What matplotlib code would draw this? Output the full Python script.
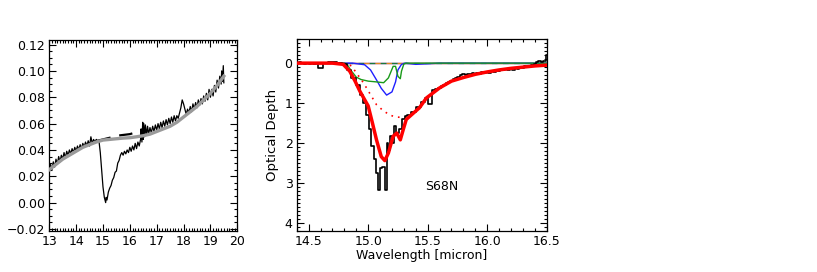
import matplotlib
matplotlib.use("Agg")
import matplotlib.pyplot as plt
from matplotlib.ticker import MultipleLocator
import numpy as np

# ---- left panel: observed spectrum, local continuum and polynomial continuum
spec_wav = [13.00, 13.05, 13.10, 13.15, 13.20, 13.25, 13.30, 13.35, 13.40, 13.45,
            13.50, 13.55, 13.60, 13.65, 13.70, 13.75, 13.80, 13.85, 13.90, 13.95,
            14.00, 14.05, 14.10, 14.15, 14.20, 14.25, 14.30, 14.35, 14.40, 14.45,
            14.50, 14.55, 14.60, 14.65, 14.70, 14.75, 14.80, 14.85, 14.90, 14.95,
            15.00, 15.05, 15.10, 15.12, 15.15, 15.20, 15.25, 15.30, 15.35, 15.40,
            15.45, 15.50, 15.55, 15.60, 15.65, 15.70, 15.75, 15.80, 15.85, 15.90,
            15.95, 16.00, 16.05, 16.10, 16.15, 16.20, 16.25, 16.30, 16.35, 16.40,
            16.42, 16.45, 16.48, 16.50, 16.52, 16.55, 16.58, 16.62, 16.66, 16.70,
            16.75, 16.80, 16.85, 16.90, 16.95, 17.00, 17.05, 17.10, 17.15, 17.20,
            17.25, 17.30, 17.35, 17.40, 17.45, 17.50, 17.55, 17.60, 17.65, 17.70,
            17.75, 17.80, 17.85, 17.90, 17.95, 18.00, 18.05, 18.10, 18.15, 18.20,
            18.25, 18.30, 18.35, 18.40, 18.45, 18.50, 18.55, 18.60, 18.65, 18.70,
            18.75, 18.80, 18.85, 18.90, 18.95, 19.00, 19.05, 19.10, 19.15, 19.20,
            19.25, 19.30, 19.35, 19.40, 19.42, 19.45, 19.48, 19.50]
spec_flux = [0.023, 0.029, 0.025, 0.031, 0.027, 0.033, 0.029, 0.035, 0.031, 0.036,
             0.033, 0.038, 0.034, 0.039, 0.036, 0.040, 0.037, 0.041, 0.038, 0.042,
             0.039, 0.043, 0.040, 0.044, 0.041, 0.045, 0.042, 0.046, 0.043, 0.047,
             0.043, 0.050, 0.045, 0.048, 0.046, 0.048, 0.047, 0.047, 0.038, 0.025,
             0.012, 0.004, 0.000, 0.004, 0.002, 0.008, 0.011, 0.013, 0.017, 0.019,
             0.023, 0.024, 0.030, 0.032, 0.036, 0.038, 0.036, 0.039, 0.037, 0.040,
             0.038, 0.042, 0.039, 0.043, 0.040, 0.045, 0.041, 0.046, 0.043, 0.048,
             0.056, 0.046, 0.061, 0.048, 0.060, 0.050, 0.059, 0.051, 0.058, 0.052,
             0.057, 0.053, 0.058, 0.054, 0.059, 0.055, 0.060, 0.056, 0.061, 0.057,
             0.062, 0.058, 0.063, 0.059, 0.064, 0.060, 0.065, 0.061, 0.066, 0.062,
             0.066, 0.064, 0.068, 0.072, 0.078, 0.075, 0.071, 0.067, 0.071, 0.068,
             0.073, 0.069, 0.075, 0.071, 0.076, 0.072, 0.078, 0.074, 0.079, 0.075,
             0.081, 0.077, 0.083, 0.078, 0.086, 0.080, 0.086, 0.081, 0.089, 0.084,
             0.093, 0.087, 0.096, 0.090, 0.100, 0.092, 0.104, 0.091]

local_wav = [14.80, 15.20, 15.60, 16.00, 16.50]
local_flux = [0.047, 0.049, 0.051, 0.052, 0.055]

cont_wav = [13.00, 13.25, 13.50, 13.75, 14.00, 14.25, 14.50, 14.75, 15.00, 15.25,
            15.50, 15.75, 16.00, 16.25, 16.50, 16.75, 17.00, 17.25, 17.50, 17.75,
            18.00, 18.25, 18.50, 18.75, 19.00, 19.25, 19.50]
cont_flux = [0.025, 0.029, 0.033, 0.036, 0.039, 0.042, 0.044, 0.046, 0.0475, 0.048,
             0.0485, 0.049, 0.0493, 0.050, 0.0508, 0.052, 0.054, 0.056, 0.058, 0.061,
             0.065, 0.069, 0.073, 0.078, 0.083, 0.089, 0.096]

# ---- right panel: optical depth spectrum and fit components
tau_wav = [14.41, 14.43, 14.45, 14.47, 14.49, 14.51, 14.53, 14.55, 14.57, 14.59,
           14.61, 14.63, 14.65, 14.67, 14.69, 14.71, 14.73, 14.75, 14.77, 14.79,
           14.80, 14.845, 14.875, 14.915, 14.945, 14.97, 15.00, 15.02, 15.035, 15.055,
           15.07, 15.09, 15.11, 15.13, 15.15, 15.16, 15.175, 15.19, 15.21, 15.225,
           15.25, 15.27, 15.295, 15.32, 15.34, 15.38, 15.43, 15.46, 15.49, 15.51,
           15.53, 15.55, 15.58, 15.60, 15.62, 15.64, 15.66, 15.68, 15.70, 15.72,
           15.74, 15.76, 15.78, 15.80, 15.82, 15.84, 15.86, 15.88, 15.90, 15.92,
           15.94, 15.96, 15.98, 16.00, 16.02, 16.04, 16.06, 16.08, 16.10, 16.12,
           16.14, 16.16, 16.18, 16.20, 16.22, 16.24, 16.26, 16.28, 16.30, 16.32,
           16.34, 16.36, 16.38, 16.40, 16.42, 16.44, 16.46, 16.48, 16.50]
tau_obs = [0.00, -0.02, 0.00, 0.01, -0.01, 0.01, 0.00, 0.01, 0.00, 0.12,
           0.12, 0.00, -0.01, -0.02, -0.02, -0.03, -0.02, -0.01, 0.00, 0.02,
           0.03, 0.16, 0.37, 0.54, 0.79, 1.00, 1.29, 1.66, 2.08, 2.41,
           2.75, 3.17, 2.63, 2.59, 3.17, 2.00, 2.17, 1.83, 2.00, 1.58,
           1.75, 1.66, 1.41, 1.33, 1.30, 1.22, 1.10, 0.98, 0.87, 1.03,
           1.03, 0.68, 0.64, 0.62, 0.57, 0.55, 0.50, 0.47, 0.44, 0.40,
           0.38, 0.34, 0.30, 0.27, 0.30, 0.26, 0.28, 0.25, 0.27, 0.24,
           0.26, 0.23, 0.25, 0.22, 0.24, 0.20, 0.22, 0.18, 0.20, 0.16,
           0.18, 0.15, 0.17, 0.13, 0.16, 0.12, 0.14, 0.10, 0.12, 0.08,
           0.09, 0.06, 0.05, 0.02, -0.04, -0.05, -0.04, -0.06, -0.20]

fit_wav = [14.40, 14.70, 14.79, 14.845, 14.89, 14.93, 14.96, 15.00, 15.036, 15.07,
           15.11, 15.14, 15.17, 15.21, 15.24, 15.27, 15.295, 15.32, 15.365, 15.43,
           15.49, 15.60, 15.70, 15.80, 15.90, 16.00, 16.10, 16.20, 16.30, 16.40, 16.50]
fit_tau = [0.0, 0.0, 0.03, 0.20, 0.45, 0.70, 0.86, 1.07, 1.50, 1.92,
           2.34, 2.44, 2.25, 1.83, 1.75, 1.92, 1.66, 1.41, 1.29, 1.12,
           0.87, 0.62, 0.45, 0.36, 0.28, 0.22, 0.17, 0.13, 0.10, 0.07, 0.05]

broad_wav = [14.40, 14.75, 14.82, 14.86, 14.90, 14.96, 15.02, 15.07, 15.13, 15.19,
             15.24, 15.295, 15.34, 15.43, 15.49, 15.60, 15.70, 15.80, 15.90, 16.00,
             16.10, 16.20, 16.30, 16.40, 16.50]
broad_tau = [0.0, 0.0, 0.02, 0.07, 0.24, 0.49, 0.79, 1.04, 1.20, 1.31,
             1.35, 1.36, 1.33, 1.12, 0.87, 0.62, 0.45, 0.36, 0.28, 0.22,
             0.17, 0.13, 0.10, 0.07, 0.05]

blue_wav = [14.40, 14.87, 14.97, 15.02, 15.07, 15.11, 15.155, 15.20, 15.23, 15.25,
            15.28, 15.31, 15.40, 15.60, 16.50]
blue_tau = [0.0, 0.0, 0.04, 0.17, 0.42, 0.63, 0.80, 0.72, 0.47, 0.17,
            0.03, 0.0, 0.03, 0.0, 0.0]

green_wav = [14.40, 14.80, 14.82, 14.86, 14.90, 14.94, 15.00, 15.07, 15.13, 15.17,
             15.21, 15.23, 15.25, 15.27, 15.28, 15.30, 15.32, 16.50]
green_tau = [0.0, 0.0, 0.02, 0.20, 0.35, 0.41, 0.45, 0.47, 0.49, 0.37,
             0.08, 0.08, 0.33, 0.39, 0.20, 0.02, 0.0, 0.0]

zero_wav = [14.40, 16.50]
zero_tau = [0.0, 0.0]

label_font = {'family': 'DejaVu Sans', 'size': 9}

fig = plt.figure(figsize=(8.17, 2.72), dpi=100)
ax1 = fig.add_axes([0.0603, 0.151, 0.2301, 0.702])
ax2 = fig.add_axes([0.3632, 0.151, 0.3060, 0.705])

# left panel
ax1.plot(cont_wav, cont_flux, color='#9a9a9a', lw=2.4, zorder=3)
ax1.plot(local_wav, local_flux, color='black', lw=1.6, dashes=(6, 4), zorder=2)
ax1.plot(spec_wav, spec_flux, color='black', lw=0.9, zorder=2)
ax1.set_xlim(13, 20)
ax1.set_ylim(-0.0215, 0.1235)
ax1.xaxis.set_major_locator(MultipleLocator(1))
ax1.xaxis.set_minor_locator(MultipleLocator(0.1))
ax1.yaxis.set_minor_locator(MultipleLocator(0.005))
ax1.set_yticks(np.arange(-0.02, 0.121, 0.02))
ax1.set_yticklabels(['\u22120.02', '0.00', '0.02', '0.04', '0.06', '0.08', '0.10', '0.12'])

# right panel
ax2.plot(zero_wav, zero_tau, color='#9933cc', lw=1.0, zorder=2)
ax2.plot(zero_wav, zero_tau, color='#e08a1e', lw=1.0, ls=(0, (4, 4)), zorder=2)
ax2.plot(zero_wav, zero_tau, color='#1a7a3a', lw=1.0, ls=(4, (4, 4)), zorder=2)
ax2.plot(blue_wav, blue_tau, color='#1f1fff', lw=1.0, zorder=3)
ax2.plot(green_wav, green_tau, color='#1a9a1a', lw=1.0, zorder=3)
ax2.plot(broad_wav, broad_tau, color='red', lw=1.2, ls=(0, (1, 3)), zorder=3)
ax2.plot(tau_wav, tau_obs, color='black', lw=1.2, drawstyle='steps-mid', zorder=4)
ax2.plot(fit_wav, fit_tau, color='red', lw=2.5, zorder=5)
ax2.set_xlim(14.4, 16.5)
ax2.set_ylim(4.2, -0.6)
ax2.xaxis.set_major_locator(MultipleLocator(0.5))
ax2.xaxis.set_minor_locator(MultipleLocator(0.1))
ax2.yaxis.set_major_locator(MultipleLocator(1))
ax2.yaxis.set_minor_locator(MultipleLocator(0.1))
ax2.set_xlabel('Wavelength [micron]', fontdict=label_font, labelpad=1)
ax2.set_ylabel('Optical Depth', fontdict=label_font, fontsize=9.5, labelpad=4)
ax2.text(15.62, 3.08, 'S68N', ha='center', va='center', fontdict=label_font)

for ax in (ax1, ax2):
    ax.tick_params(which='both', direction='in', top=True, right=True,
                   labelsize=9, pad=3, width=0.8)
    ax.tick_params(which='major', length=5)
    ax.tick_params(which='minor', length=2.5)
    for sp in ax.spines.values():
        sp.set_linewidth(0.9)

fig.savefig('out.png', dpi=100)
